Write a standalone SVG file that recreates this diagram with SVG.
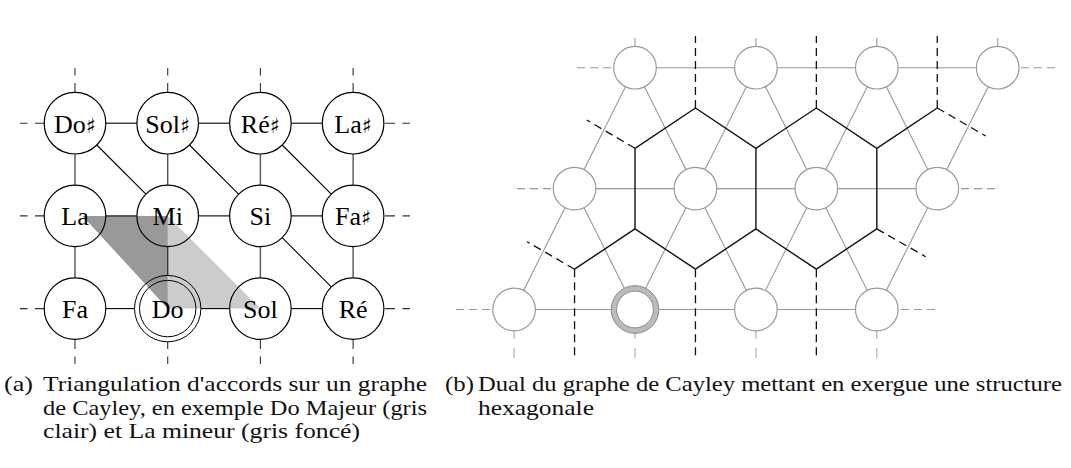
<svg xmlns="http://www.w3.org/2000/svg" width="1071" height="468" viewBox="0 0 1071 468">
<style>
.n{fill:#fff;stroke:#000;stroke-width:1.2}
.lbl{font-family:'Liberation Serif',serif;font-size:26px;text-anchor:middle;fill:#000}
.sh{font-family:'DejaVu Serif','DejaVu Sans',serif;font-size:21px}
.e{stroke:#000;stroke-width:1.1;fill:none}
.ev{stroke:#555;stroke-width:1.4;fill:none}
.st{stroke:#333;stroke-width:1.1;stroke-dasharray:7.5 7.5 10}
.g{fill:#fff;stroke:#999;stroke-width:1.2}
.ge{stroke:#999;stroke-width:1.1;fill:none}
.gs{stroke:#999;stroke-width:1.1;stroke-dasharray:8 5}
.gb{stroke:#aaa;stroke-width:1.1;stroke-dasharray:10 9}
.hx{stroke:#111;stroke-width:1.4;fill:none;stroke-linejoin:miter}
.hd{stroke:#111;stroke-width:1.3;stroke-dasharray:8 5;fill:none}
.cap{font-family:'Liberation Serif',serif;font-size:22px;fill:#111}
</style>

<g id="connectors-a">
  <line class="e" x1="105.8" y1="123.2" x2="136.9" y2="123.2"/>
  <line class="e" x1="198.5" y1="123.2" x2="229.6" y2="123.2"/>
  <line class="e" x1="291.2" y1="123.2" x2="322.3" y2="123.2"/>
  <line class="e" x1="105.8" y1="215.9" x2="136.9" y2="215.9"/>
  <line class="e" x1="198.5" y1="215.9" x2="229.6" y2="215.9"/>
  <line class="e" x1="291.2" y1="215.9" x2="322.3" y2="215.9"/>
  <line class="e" x1="105.8" y1="308.6" x2="134.5" y2="308.6"/>
  <line class="e" x1="200.9" y1="308.6" x2="229.6" y2="308.6"/>
  <line class="e" x1="291.2" y1="308.6" x2="322.3" y2="308.6"/>
  <line class="ev" x1="75" y1="154" x2="75" y2="185.1"/>
  <line class="ev" x1="167.7" y1="154" x2="167.7" y2="185.1"/>
  <line class="ev" x1="260.4" y1="154" x2="260.4" y2="185.1"/>
  <line class="ev" x1="353.1" y1="154" x2="353.1" y2="185.1"/>
  <line class="ev" x1="75" y1="246.7" x2="75" y2="277.8"/>
  <line class="ev" x1="167.7" y1="246.7" x2="167.7" y2="275.4"/>
  <line class="ev" x1="260.4" y1="246.7" x2="260.4" y2="277.8"/>
  <line class="ev" x1="353.1" y1="246.7" x2="353.1" y2="277.8"/>
  <line class="e" x1="96.8" y1="145" x2="145.9" y2="194.1"/>
  <line class="e" x1="189.5" y1="145" x2="238.6" y2="194.1"/>
  <line class="e" x1="282.2" y1="145" x2="331.3" y2="194.1"/>
  <line class="e" x1="282.2" y1="237.7" x2="331.3" y2="286.8"/>
  <line class="st" x1="75" y1="68" x2="75" y2="92.4"/>
  <line class="st" x1="167.7" y1="68" x2="167.7" y2="92.4"/>
  <line class="st" x1="260.4" y1="68" x2="260.4" y2="92.4"/>
  <line class="st" x1="353.1" y1="68" x2="353.1" y2="92.4"/>
  <line class="st" x1="75" y1="364" x2="75" y2="339.4"/>
  <line class="st" x1="167.7" y1="364" x2="167.7" y2="341.8"/>
  <line class="st" x1="260.4" y1="364" x2="260.4" y2="339.4"/>
  <line class="st" x1="353.1" y1="364" x2="353.1" y2="339.4"/>
  <line class="st" x1="20" y1="123.2" x2="44.2" y2="123.2"/>
  <line class="st" x1="20" y1="215.9" x2="44.2" y2="215.9"/>
  <line class="st" x1="20" y1="308.6" x2="44.2" y2="308.6"/>
  <line class="st" x1="410" y1="123.2" x2="383.9" y2="123.2"/>
  <line class="st" x1="410" y1="215.9" x2="383.9" y2="215.9"/>
  <line class="st" x1="410" y1="308.6" x2="383.9" y2="308.6"/>
</g>

<g id="n-dos"><circle class="n" cx="75" cy="123.2" r="30.8"/><text class="lbl" x="75" y="132.7">Do<tspan class="sh">♯</tspan></text></g>
<g id="n-sols"><circle class="n" cx="167.7" cy="123.2" r="30.8"/><text class="lbl" x="167.7" y="132.7">Sol<tspan class="sh">♯</tspan></text></g>
<g id="n-res"><circle class="n" cx="260.4" cy="123.2" r="30.8"/><text class="lbl" x="260.4" y="132.7">Ré<tspan class="sh">♯</tspan></text></g>
<g id="n-las"><circle class="n" cx="353.1" cy="123.2" r="30.8"/><text class="lbl" x="353.1" y="132.7">La<tspan class="sh">♯</tspan></text></g>
<g id="n-la"><circle class="n" cx="75" cy="215.9" r="30.8"/><text class="lbl" x="75" y="225.4">La</text></g>
<g id="n-mi"><circle class="n" cx="167.7" cy="215.9" r="30.8"/><text class="lbl" x="167.7" y="225.4">Mi</text></g>
<g id="n-si"><circle class="n" cx="260.4" cy="215.9" r="30.8"/><text class="lbl" x="260.4" y="225.4">Si</text></g>
<g id="n-fas"><circle class="n" cx="353.1" cy="215.9" r="30.8"/><text class="lbl" x="353.1" y="225.4">Fa<tspan class="sh">♯</tspan></text></g>
<g id="n-fa"><circle class="n" cx="75" cy="308.6" r="30.8"/><text class="lbl" x="75" y="318.1">Fa</text></g>
<g id="n-do"><circle class="n" cx="167.7" cy="308.6" r="33.2" style="stroke-width:1"/><circle class="n" cx="167.7" cy="308.6" r="28.2" style="stroke-width:1"/><text class="lbl" x="167.7" y="318.1">Do</text></g>
<g id="n-sol"><circle class="n" cx="260.4" cy="308.6" r="30.8"/><text class="lbl" x="260.4" y="318.1">Sol</text></g>
<g id="n-re"><circle class="n" cx="353.1" cy="308.6" r="30.8"/><text class="lbl" x="353.1" y="318.1">Ré</text></g>

<g id="chords">
  <polygon points="82.5,215.9 167.7,215.9 167.7,308.6" fill="#000" fill-opacity="0.4"/>
  <polygon points="167.7,215.9 167.7,308.6 260.4,308.6" fill="#000" fill-opacity="0.2"/>
</g>

<g id="connectors-b">
  <line class="ge" x1="656.3" y1="67.7" x2="734.6" y2="67.7"/>
  <line class="ge" x1="777.2" y1="67.7" x2="855.5" y2="67.7"/>
  <line class="ge" x1="898.1" y1="67.7" x2="976.4" y2="67.7"/>
  <line class="ge" x1="595.85" y1="188.6" x2="674.15" y2="188.6"/>
  <line class="ge" x1="716.75" y1="188.6" x2="795.05" y2="188.6"/>
  <line class="ge" x1="837.65" y1="188.6" x2="915.95" y2="188.6"/>
  <line class="ge" x1="535.4" y1="309.5" x2="613.7" y2="309.5"/>
  <line class="ge" x1="656.3" y1="309.5" x2="734.6" y2="309.5"/>
  <line class="ge" x1="777.2" y1="309.5" x2="855.5" y2="309.5"/>
  <line class="ge" x1="625.48" y1="86.75" x2="584.07" y2="169.55"/>
  <line class="ge" x1="644.52" y1="86.75" x2="685.93" y2="169.55"/>
  <line class="ge" x1="746.38" y1="86.75" x2="704.97" y2="169.55"/>
  <line class="ge" x1="765.42" y1="86.75" x2="806.83" y2="169.55"/>
  <line class="ge" x1="867.28" y1="86.75" x2="825.87" y2="169.55"/>
  <line class="ge" x1="886.32" y1="86.75" x2="927.73" y2="169.55"/>
  <line class="ge" x1="988.18" y1="86.75" x2="946.77" y2="169.55"/>
  <line class="ge" x1="565.03" y1="207.65" x2="523.62" y2="290.45"/>
  <line class="ge" x1="584.07" y1="207.65" x2="625.48" y2="290.45"/>
  <line class="ge" x1="685.93" y1="207.65" x2="644.52" y2="290.45"/>
  <line class="ge" x1="704.97" y1="207.65" x2="746.38" y2="290.45"/>
  <line class="ge" x1="806.83" y1="207.65" x2="765.42" y2="290.45"/>
  <line class="ge" x1="825.87" y1="207.65" x2="867.28" y2="290.45"/>
  <line class="ge" x1="927.73" y1="207.65" x2="886.32" y2="290.45"/>
  <line class="gs" x1="577" y1="67.7" x2="613.7" y2="67.7"/>
  <line class="gs" x1="517" y1="188.6" x2="553.25" y2="188.6"/>
  <line class="gs" x1="456" y1="309.5" x2="492.8" y2="309.5"/>
  <line class="gs" x1="1055" y1="67.7" x2="1019" y2="67.7"/>
  <line class="gs" x1="995" y1="188.6" x2="958.55" y2="188.6"/>
  <line class="gs" x1="935" y1="309.5" x2="898.1" y2="309.5"/>
  <line class="ge" x1="635" y1="38" x2="635" y2="46.4"/>
  <line class="ge" x1="755.9" y1="38" x2="755.9" y2="46.4"/>
  <line class="ge" x1="876.8" y1="38" x2="876.8" y2="46.4"/>
  <line class="ge" x1="997.7" y1="38" x2="997.7" y2="46.4"/>
  <line class="gb" x1="514.1" y1="358" x2="514.1" y2="330.8"/>
  <line class="gb" x1="635" y1="358" x2="635" y2="333.3"/>
  <line class="gb" x1="755.9" y1="358" x2="755.9" y2="330.8"/>
  <line class="gb" x1="876.8" y1="358" x2="876.8" y2="330.8"/>
  <polygon class="hx" points="695.45,108 635,148.3 635,228.9 695.45,269.2 755.9,228.9 755.9,148.3"/>
  <polyline class="hx" points="755.9,148.3 816.35,108 876.8,148.3 876.8,228.9 816.35,269.2 755.9,228.9"/>
  <line class="hx" x1="876.8" y1="148.3" x2="937.25" y2="108"/>
  <line class="hx" x1="635" y1="228.9" x2="574.55" y2="269.2"/>
  <line class="hd" x1="695.45" y1="108" x2="695.45" y2="36"/>
  <line class="hd" x1="816.35" y1="108" x2="816.35" y2="36"/>
  <line class="hd" x1="937.25" y1="108" x2="937.25" y2="36"/>
  <line class="hd" x1="574.55" y1="269.2" x2="574.55" y2="357"/>
  <line class="hd" x1="695.45" y1="269.2" x2="695.45" y2="357"/>
  <line class="hd" x1="816.35" y1="269.2" x2="816.35" y2="357"/>
  <line class="hd" x1="635" y1="148.3" x2="586.7" y2="120"/>
  <line class="hd" x1="574.55" y1="269.2" x2="527" y2="241.7"/>
  <line class="hd" x1="937.25" y1="108" x2="985.7" y2="136"/>
  <line class="hd" x1="876.8" y1="228.9" x2="925.7" y2="256.7"/>
</g>

<g id="b-r0c0"><circle class="g" cx="635" cy="67.7" r="21.3"/></g>
<g id="b-r0c1"><circle class="g" cx="755.9" cy="67.7" r="21.3"/></g>
<g id="b-r0c2"><circle class="g" cx="876.8" cy="67.7" r="21.3"/></g>
<g id="b-r0c3"><circle class="g" cx="997.7" cy="67.7" r="21.3"/></g>
<g id="b-r1c0"><circle class="g" cx="574.55" cy="188.6" r="21.3"/></g>
<g id="b-r1c1"><circle class="g" cx="695.45" cy="188.6" r="21.3"/></g>
<g id="b-r1c2"><circle class="g" cx="816.35" cy="188.6" r="21.3"/></g>
<g id="b-r1c3"><circle class="g" cx="937.25" cy="188.6" r="21.3"/></g>
<g id="b-r2c0"><circle class="g" cx="514.1" cy="309.5" r="21.3"/></g>
<g id="b-r2c1">
  <circle cx="635" cy="309.5" r="21.1" fill="#fff" stroke="#bbb" stroke-width="5.2"/>
  <circle cx="635" cy="309.5" r="23.8" fill="none" stroke="#888" stroke-width="1"/>
  <circle cx="635" cy="309.5" r="18.4" fill="none" stroke="#888" stroke-width="1"/>
</g>
<g id="b-r2c2"><circle class="g" cx="755.9" cy="309.5" r="21.3"/></g>
<g id="b-r2c3"><circle class="g" cx="876.8" cy="309.5" r="21.3"/></g>

<g id="caption-a">
  <text class="cap" x="4" y="391" textLength="29" lengthAdjust="spacingAndGlyphs">(a)</text>
  <text class="cap" x="43" y="391" textLength="384" lengthAdjust="spacingAndGlyphs">Triangulation d'accords sur un graphe</text>
  <text class="cap" x="43" y="414.5" textLength="384" lengthAdjust="spacingAndGlyphs">de Cayley, en exemple Do Majeur (gris</text>
  <text class="cap" x="43" y="438" textLength="317" lengthAdjust="spacingAndGlyphs">clair) et La mineur (gris foncé)</text>
</g>
<g id="caption-b">
  <text class="cap" x="445" y="391" textLength="29" lengthAdjust="spacingAndGlyphs">(b)</text>
  <text class="cap" x="478" y="391" textLength="584" lengthAdjust="spacingAndGlyphs">Dual du graphe de Cayley mettant en exergue une structure</text>
  <text class="cap" x="478" y="414.5" textLength="116" lengthAdjust="spacingAndGlyphs">hexagonale</text>
</g>
</svg>
